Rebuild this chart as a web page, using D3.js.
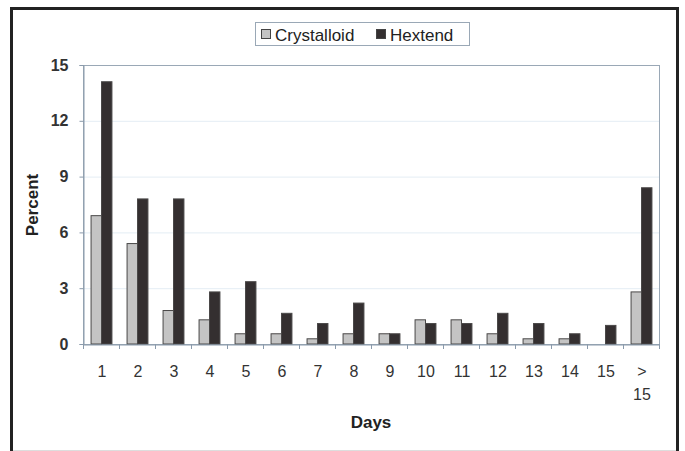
<!DOCTYPE html>
<html><head><meta charset="utf-8">
<script src="https://cdn.jsdelivr.net/npm/d3@7"></script>
<style>body{margin:0;background:#fff}svg{display:block}</style>
</head><body>
<script>
const categories = ["1","2","3","4","5","6","7","8","9","10","11","12","13","14","15","> 15"];
const crystalloid = [6.9,5.4,1.8,1.3,0.55,0.55,0.28,0.55,0.55,1.3,1.3,0.55,0.28,0.28,0,2.8];
const hextend = [14.1,7.8,7.8,2.8,3.35,1.65,1.1,2.2,0.55,1.1,1.1,1.65,1.1,0.55,1.0,8.4];
const seriesNames = ["Crystalloid","Hextend"];
const yTicks = [0,3,6,9,12,15];

const W=685,H=451;
const svg=d3.select("body").append("svg").attr("width",W).attr("height",H);
const m={l:83,r:659,t:65,b:344};
const font="Liberation Sans, Arial, sans-serif";
const txt="#333";

// frame
svg.append("rect").attr("x",11.5).attr("y",8.5).attr("width",666).attr("height",460)
  .attr("fill","none").attr("stroke","#222").attr("stroke-width",3);
svg.append("line").attr("x1",13).attr("x2",676).attr("y1",450.5).attr("y2",450.5).attr("stroke","#ddd");

const x=d3.scaleBand().domain(categories).range([m.l,m.r]).paddingInner(0.42).paddingOuter(0.21);
const x1=d3.scaleBand().domain(seriesNames).range([0,x.bandwidth()]);
const y=d3.scaleLinear().domain([0,15]).range([m.b,m.t]);

// gridlines
svg.append("g").selectAll("line").data(yTicks.filter(d=>d>0&&d<15)).join("line")
  .attr("x1",m.l).attr("x2",m.r).attr("y1",d=>y(d)+0.5).attr("y2",d=>y(d)+0.5)
  .attr("stroke","#e4edf4").attr("stroke-width",1);
// plot border
svg.append("rect").attr("x",m.l+0.5).attr("y",m.t+0.5).attr("width",m.r-m.l).attr("height",m.b-m.t)
  .attr("fill","none").attr("stroke","#9aa8b6").attr("stroke-width",1);

// bars
const data=categories.map((c,i)=>({c,vals:[crystalloid[i],hextend[i]]}));
const colors=["#c4c4c4","#342f30"];
const g=svg.append("g").selectAll("g").data(data).join("g").attr("transform",d=>`translate(${x(d.c)},0)`);
g.selectAll("rect").data(d=>d.vals.map((v,j)=>({v,j}))).join("rect")
  .filter(d=>d.v>0)
  .attr("x",d=>x1(seriesNames[d.j])+0.5).attr("width",x1.bandwidth())
  .attr("y",d=>y(d.v)).attr("height",d=>y(0)-y(d.v))
  .attr("fill",d=>colors[d.j]).attr("stroke","#4a4848").attr("stroke-width",1);

// x axis
const xa=d3.axisBottom(x).tickSize(0).tickFormat("");
const xg=svg.append("g").attr("transform",`translate(0,${m.b+0.5})`).call(xa);
xg.select(".domain").attr("stroke","#8a9aab");
const step=x.step();
svg.append("g").selectAll("line").data(d3.range(categories.length+1)).join("line")
  .attr("x1",i=>m.l+i*step+0.5).attr("x2",i=>m.l+i*step+0.5)
  .attr("y1",m.b).attr("y2",m.b+5).attr("stroke","#8a9aab");
// x labels
const xl=svg.append("g").attr("font-family",font).attr("font-size",16).attr("fill",txt).attr("text-anchor","middle");
categories.forEach(c=>{
  const cx=x(c)+x.bandwidth()/2;
  const parts=c.split(" ");
  parts.forEach((p,k)=>{
    xl.append("text").attr("x",cx+1).attr("y",377+k*23).text(p);
  });
});

// y axis
const ya=d3.axisLeft(y).tickValues(yTicks).tickSize(4).tickPadding(11);
const yg=svg.append("g").attr("transform",`translate(${m.l+0.5},0)`).call(ya);
yg.select(".domain").attr("stroke","#8a9aab");
yg.selectAll(".tick line").attr("stroke","#8a9aab");
yg.selectAll("text").attr("font-family",font).attr("font-size",16).attr("fill",txt).attr("font-weight","bold");

// titles
svg.append("text").attr("transform","translate(38,205) rotate(-90)").attr("text-anchor","middle")
  .attr("font-family",font).attr("font-size",17).attr("font-weight","bold").attr("fill","#222").text("Percent");
svg.append("text").attr("x",371).attr("y",428).attr("text-anchor","middle")
  .attr("font-family",font).attr("font-size",17).attr("font-weight","bold").attr("fill","#222").text("Days");

// legend
const lg=svg.append("g");
lg.append("rect").attr("x",255.5).attr("y",22.5).attr("width",214).attr("height",23)
  .attr("fill","#fff").attr("stroke","#9aa8b6");
const legX=[261,376];
seriesNames.forEach((s,i)=>{
  lg.append("rect").attr("x",legX[i]+0.5).attr("y",29.5).attr("width",9).attr("height",9)
    .attr("fill",colors[i]).attr("stroke","#444");
  lg.append("text").attr("x",legX[i]+14).attr("y",40.5).attr("font-family",font).attr("font-size",17)
    .attr("fill","#222").text(s);
});
</script>
</body></html>
